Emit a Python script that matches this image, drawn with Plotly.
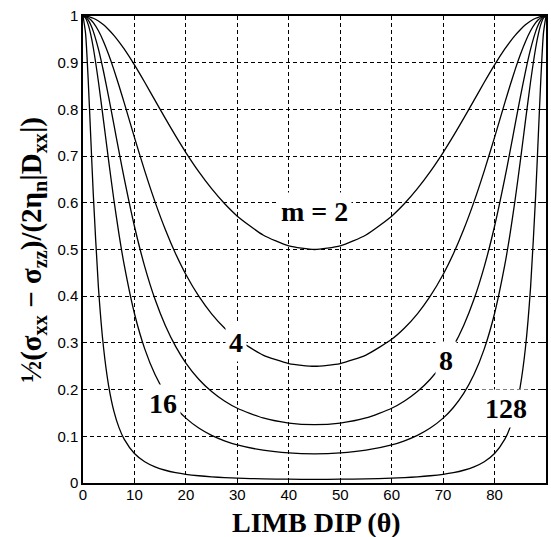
import plotly.graph_objects as go

theta = [0, 0.5, 1, 1.5, 2, 3, 4, 5, 6, 7, 8, 10, 12, 14, 16, 18, 20, 22.5, 25, 27.5,
         30, 35, 40, 45, 50, 55, 60, 62.5, 65, 67.5, 70, 72, 74, 76, 78, 80, 82, 83,
         84, 85, 86, 87, 88, 88.5, 89, 89.5, 90]

m2 = [1.0, 0.9997, 0.9988, 0.9973, 0.9952, 0.9892, 0.9810, 0.9707, 0.9586, 0.9447, 0.9294,
      0.8953, 0.8581, 0.8194, 0.7807, 0.7432, 0.7076, 0.6667, 0.6302, 0.5984,
      0.5714, 0.5311, 0.5077, 0.5, 0.5077, 0.5311, 0.5714, 0.5984, 0.6302, 0.6667,
      0.7076, 0.7432, 0.7807, 0.8194, 0.8581, 0.8953, 0.9294, 0.9447, 0.9586, 0.9707,
      0.9810, 0.9892, 0.9952, 0.9973, 0.9988, 0.9997, 1.0]

m4 = [1.0, 0.9991, 0.9964, 0.9918, 0.9856, 0.9683, 0.9451, 0.9170, 0.8852, 0.8506, 0.8144,
      0.7402, 0.6683, 0.6020, 0.5428, 0.4910, 0.4465, 0.4000, 0.3623, 0.3319,
      0.3077, 0.2740, 0.2558, 0.25, 0.2558, 0.2740, 0.3077, 0.3319, 0.3623, 0.4000,
      0.4465, 0.4910, 0.5428, 0.6020, 0.6683, 0.7402, 0.8144, 0.8506, 0.8852, 0.9170,
      0.9451, 0.9683, 0.9856, 0.9918, 0.9964, 0.9991, 1.0]

m8 = [1.0, 0.9979, 0.9915, 0.9812, 0.9671, 0.9290, 0.8806, 0.8257, 0.7677, 0.7094, 0.6528,
      0.5498, 0.4634, 0.3933, 0.3372, 0.2925, 0.2569, 0.2222, 0.1958, 0.1755,
      0.1600, 0.1393, 0.1284, 0.125, 0.1284, 0.1393, 0.1600, 0.1755, 0.1958, 0.2222,
      0.2569, 0.2925, 0.3372, 0.3933, 0.4634, 0.5498, 0.6528, 0.7094, 0.7677, 0.8257,
      0.8806, 0.9290, 0.9671, 0.9812, 0.9915, 0.9979, 1.0]

m16 = [1.0, 0.9955, 0.9820, 0.9605, 0.9320, 0.8592, 0.7749, 0.6886, 0.6066, 0.5325, 0.4674,
       0.3630, 0.2872, 0.2322, 0.1919, 0.1617, 0.1389, 0.1176, 0.1020, 0.0904,
       0.0816, 0.0702, 0.0643, 0.0625, 0.0643, 0.0702, 0.0816, 0.0904, 0.1020, 0.1176,
       0.1389, 0.1617, 0.1919, 0.2322, 0.2872, 0.3630, 0.4674, 0.5325, 0.6066, 0.6886,
       0.7749, 0.8592, 0.9320, 0.9605, 0.9820, 0.9955, 1.0]

m128 = [1.0, 0.9628, 0.8660, 0.7419, 0.6181, 0.4188, 0.2890, 0.2071, 0.1541, 0.1186, 0.0939,
        0.0631, 0.0454, 0.0345, 0.0273, 0.0223, 0.0187, 0.0155, 0.0132, 0.0116,
        0.0104, 0.0088, 0.0081, 0.0078, 0.0081, 0.0088, 0.0104, 0.0116, 0.0132, 0.0155,
        0.0187, 0.0223, 0.0273, 0.0345, 0.0454, 0.0631, 0.0939, 0.1186, 0.1541, 0.2071,
        0.2890, 0.4188, 0.6181, 0.7419, 0.8660, 0.9628, 1.0]

series = [m2, m4, m8, m16, m128]

curve_labels = ["m = 2", "4", "8", "16", "128"]
label_x = [45, 29.8, 70.5, 15.5, 82.2]
label_y = [0.582, 0.30, 0.263, 0.171, 0.16]

x_ticks = [0, 10, 20, 30, 40, 50, 60, 70, 80]
y_ticks = [0, 0.1, 0.2, 0.3, 0.4, 0.5, 0.6, 0.7, 0.8, 0.9, 1]
y_tick_text = ["0", "0.1", "0.2", "0.3", "0.4", "0.5", "0.6", "0.7", "0.8", "0.9", "1"]

fig = go.Figure()
for ys in series:
    fig.add_trace(go.Scatter(x=theta, y=ys, mode="lines",
                             line=dict(color="black", width=1.3, shape="spline", smoothing=0.6),
                             showlegend=False, hoverinfo="skip"))

serif = "Liberation Serif, Times New Roman, serif"
for t, xv, yv in zip(curve_labels, label_x, label_y):
    fig.add_annotation(x=xv, y=yv, xref="x", yref="y", text="<b>" + t + "</b>",
                       showarrow=False, bgcolor="white", borderpad=3,
                       font=dict(family=serif, size=28, color="black"))

fig.add_annotation(xref="paper", yref="paper", x=0.505, y=-0.084, text="<b>LIMB DIP (θ)</b>",
                   showarrow=False, xanchor="center", yanchor="middle",
                   font=dict(family=serif, size=28, color="black"))
fig.add_annotation(xref="paper", yref="paper", x=-0.11, y=0.5,
                   text="<b>½(σ<sub>xx</sub> − σ<sub>zz</sub>)/(2η<sub>n</sub>|D<sub>xx</sub>|)</b>",
                   showarrow=False, xanchor="center", yanchor="middle", textangle=-90,
                   font=dict(family=serif, size=29, color="black"))

axis_common = dict(showline=True, linecolor="black", linewidth=1.5, mirror="ticks",
                   ticks="inside", ticklen=4, tickcolor="black",
                   showgrid=True, gridcolor="black", gridwidth=1, griddash="4px,3px",
                   zeroline=False,
                   tickfont=dict(family="Liberation Sans, Arial, sans-serif", size=15, color="black"))

fig.update_xaxes(range=[0, 90], tickvals=x_ticks, ticklabelstandoff=-3, **axis_common)
fig.update_yaxes(range=[0, 1], tickvals=y_ticks, ticktext=y_tick_text, **axis_common)

fig.update_layout(width=551, height=537, margin=dict(l=83, r=3, t=16, b=54),
                  plot_bgcolor="white", paper_bgcolor="white", showlegend=False)

fig.write_html("out.html", config={"displayModeBar": False},
               post_script="document.body.style.margin='0px';")
